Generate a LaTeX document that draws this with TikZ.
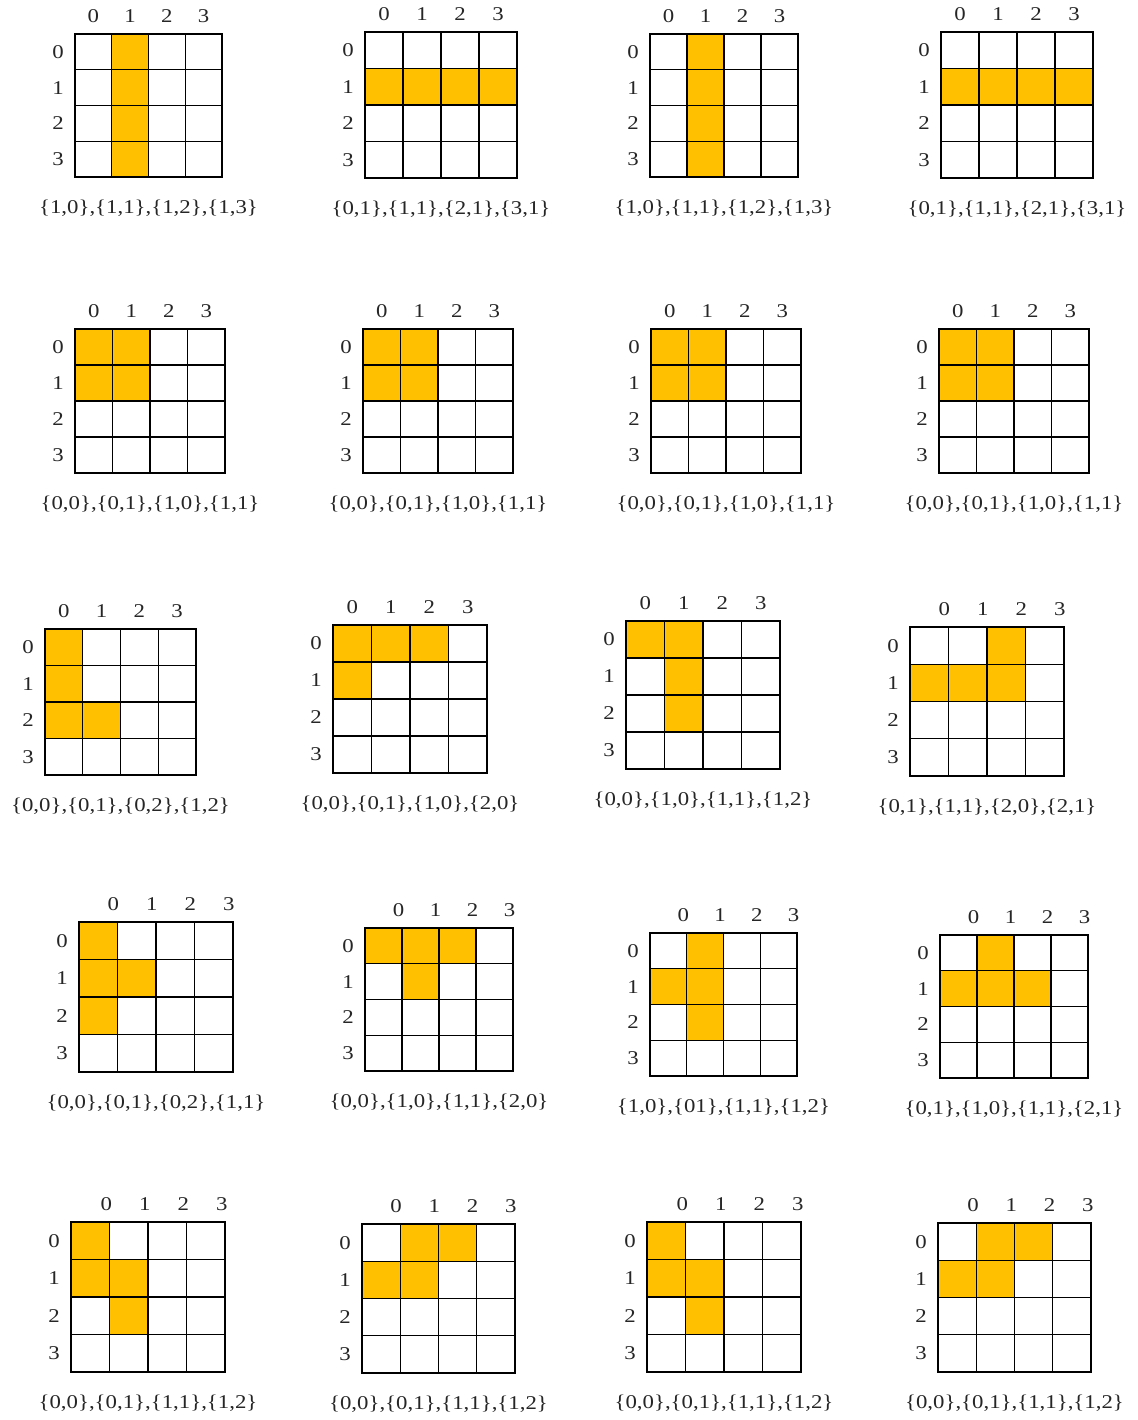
\documentclass[tikz,border=0pt]{standalone}
\usepackage{fontspec}
\setmainfont{Liberation Serif}[FakeStretch=1.17]
\usetikzlibrary{positioning}

\definecolor{tileorange}{HTML}{FFC000}
\definecolor{labelgray}{HTML}{262626}

\tikzset{
  gridline/.style={draw=black, line width=1.4pt},
  cellfill/.style={fill=tileorange},
  idx/.style={font=\fontsize{19.5}{23}\selectfont, text=labelgray, inner sep=0pt},
  tilecap/.style={font=\fontsize{19.5}{23}\selectfont, text=labelgray, inner sep=0pt}
}

% #1 name, #2 left, #3 top, #4 right, #5 bottom, #6 shift of column labels,
% #7 filled cells (col/row), #8 caption
\newcommand{\tilepanel}[8]{%
  \begin{scope}
    \pgfmathsetmacro\cw{(#4-#2)/4}
    \pgfmathsetmacro\ch{(#5-#3)/4}
    \foreach \cx/\ry in {#7}
      \fill[cellfill] ({#2+\cx*\cw},{#3+\ry*\ch}) rectangle ++(\cw,\ch);
    \foreach \i in {1,2,3} {
      \draw[gridline] ({#2+\i*\cw},#3) -- ({#2+\i*\cw},#5);
      \draw[gridline] (#2,{#3+\i*\ch}) -- (#4,{#3+\i*\ch});
    }
    \draw[gridline] (#2,#3) rectangle (#4,#5);
    \foreach \i in {0,...,3} {
      \node[idx] (#1-c\i) at ({#2+(\i+0.5)*\cw+#6},{#3-18}) {\i};
      \node[idx] (#1-r\i) at ({#2-17},{#3+(\i+0.5)*\ch}) {\i};
    }
    \node[tilecap] (#1-cap) at ({(#2+#4)/2},{#5+31}) {#8};
  \end{scope}}

\begin{document}
\begin{tikzpicture}[x=1pt, y=-1pt]
\useasboundingbox (0,0) rectangle (1137,1420);

% row 1: straight pieces
\tilepanel{p1}{75}{34}{222}{177}{0}{1/0,1/1,1/2,1/3}{\{1,0\},\{1,1\},\{1,2\},\{1,3\}}
\tilepanel{p2}{365}{32}{517}{178}{0}{0/1,1/1,2/1,3/1}{\{0,1\},\{1,1\},\{2,1\},\{3,1\}}
\tilepanel{p3}{650}{34}{798}{177}{0}{1/0,1/1,1/2,1/3}{\{1,0\},\{1,1\},\{1,2\},\{1,3\}}
\tilepanel{p4}{941}{32}{1093}{178}{0}{0/1,1/1,2/1,3/1}{\{0,1\},\{1,1\},\{2,1\},\{3,1\}}

% row 2: square pieces
\tilepanel{p5}{75}{329}{225}{473}{0}{0/0,1/0,0/1,1/1}{\{0,0\},\{0,1\},\{1,0\},\{1,1\}}
\tilepanel{p6}{363}{329}{513}{473}{0}{0/0,1/0,0/1,1/1}{\{0,0\},\{0,1\},\{1,0\},\{1,1\}}
\tilepanel{p7}{651}{329}{801}{473}{0}{0/0,1/0,0/1,1/1}{\{0,0\},\{0,1\},\{1,0\},\{1,1\}}
\tilepanel{p8}{939}{329}{1089}{473}{0}{0/0,1/0,0/1,1/1}{\{0,0\},\{0,1\},\{1,0\},\{1,1\}}

% row 3: L pieces
\tilepanel{p9}{45}{629}{196}{775}{0}{0/0,0/1,0/2,1/2}{\{0,0\},\{0,1\},\{0,2\},\{1,2\}}
\tilepanel{p10}{333}{625}{487}{773}{0}{0/0,1/0,2/0,0/1}{\{0,0\},\{0,1\},\{1,0\},\{2,0\}}
\tilepanel{p11}{626}{621}{780}{769}{0}{0/0,1/0,1/1,1/2}{\{0,0\},\{1,0\},\{1,1\},\{1,2\}}
\tilepanel{p12}{910}{627}{1064}{776}{15}{2/0,0/1,1/1,2/1}{\{0,1\},\{1,1\},\{2,0\},\{2,1\}}

% row 4: T pieces
\tilepanel{p13}{79}{922}{233}{1072}{15}{0/0,0/1,1/1,0/2}{\{0,0\},\{0,1\},\{0,2\},\{1,1\}}
\tilepanel{p14}{365}{928}{513}{1071}{15}{0/0,1/0,2/0,1/1}{\{0,0\},\{1,0\},\{1,1\},\{2,0\}}
\tilepanel{p15}{650}{933}{797}{1076}{15}{1/0,0/1,1/1,1/2}{\{1,0\},\{01\},\{1,1\},\{1,2\}}
\tilepanel{p16}{940}{935}{1088}{1078}{15}{1/0,0/1,1/1,2/1}{\{0,1\},\{1,0\},\{1,1\},\{2,1\}}

% row 5: S pieces
\tilepanel{p17}{71}{1222}{225}{1372}{16}{0/0,0/1,1/1,1/2}{\{0,0\},\{0,1\},\{1,1\},\{1,2\}}
\tilepanel{p18}{362}{1224}{515}{1373}{15}{1/0,2/0,0/1,1/1}{\{0,0\},\{0,1\},\{1,1\},\{1,2\}}
\tilepanel{p19}{647}{1222}{801}{1372}{16}{0/0,0/1,1/1,1/2}{\{0,0\},\{0,1\},\{1,1\},\{1,2\}}
\tilepanel{p20}{938}{1223}{1091}{1372}{16}{1/0,2/0,0/1,1/1}{\{0,0\},\{0,1\},\{1,1\},\{1,2\}}
\end{tikzpicture}
\end{document}
